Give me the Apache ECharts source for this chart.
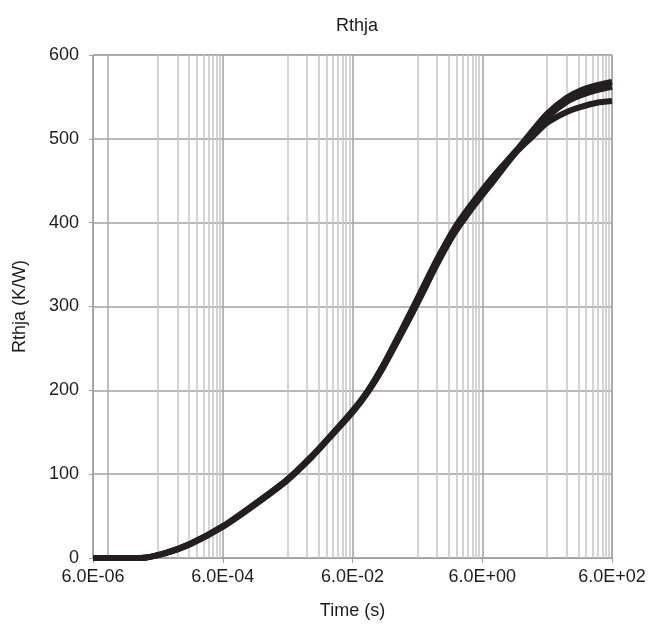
<!DOCTYPE html>
<html>
<head>
<meta charset="utf-8">
<script src="https://cdn.jsdelivr.net/npm/echarts@6/dist/echarts.min.js"></script>
<style>
    html, body { margin: 0; padding: 0; background: #fff; }
    #chart { width: 657px; height: 628px; }
</style>
</head>
<body>
<div id="chart"></div>
<script>
// time points (s) and the three thermal curves (K/W)
const T0 = 6e-6; // axis start
const times = [6e-6, 3.2e-5, 7.6e-5, 1.9e-4, 6.1e-4, 2e-3, 5.8e-3, 1.31e-2, 2.7e-2, 6.2e-2, 0.104, 0.178, 0.41, 0.66, 1.18, 2.14, 3.9, 8.8, 20, 36, 60, 120, 200, 350, 600];
const curveA = [0, 0, 5.6, 17, 38, 66, 93, 119, 145, 177, 200, 230, 284, 316, 355, 391, 420, 455, 486, 510, 530, 549, 558, 564, 568];
const curveB = [0, 0, 5.6, 17, 38, 66, 93, 118, 145, 176, 199, 229, 282, 313, 352, 388, 417, 452, 485, 507, 526, 544, 552, 558, 562];
const curveC = [0, 0, 5.6, 16.5, 37.5, 65, 92, 118, 144, 175, 198, 227, 279, 310, 349, 385, 414, 449, 484, 503, 519, 532, 538, 543, 545];
const xTicks = [0, 2, 4, 6, 8]; // decades from T0
const yMax = 600;

const dec = (t) => Math.log10(t / T0); // decades from axis start
const toPts = (ys) => times.map((t, i) => [dec(t), ys[i]]);
const FONT = "Liberation Sans";
const TXT = "#1e1c1c";

function sciLabel(v) {
    let e = Math.round(v + Math.log10(T0 / 6)); // exponent of 10
    let s = e < 0 ? "-" : "+";
    let a = Math.abs(e);
    return "6.0E" + s + (a < 10 ? "0" + a : a);
}

// minor gridlines: major * 10 * k inside each two-decade interval
const minorLines = [];
for (let m = 0; m < 8; m += 2) {
    for (let k = 1; k <= 9; k++) {
        minorLines.push({xAxis: m + 1 + Math.log10(k)});
    }
}

function curve(name, ys) {
    return {
        name: name,
        type: "line",
        data: toPts(ys),
        smooth: 0.25,
        showSymbol: false,
        lineStyle: {color: "#231f20", width: 6},
        z: 5
    };
}

const chart = echarts.init(document.getElementById("chart"));
chart.setOption({
    animation: false,
    title: {
        text: "Rthja",
        left: 352,
        top: 12,
        textAlign: "center",
        textStyle: {fontFamily: FONT, fontSize: 18, fontWeight: "normal", color: TXT}
    },
    grid: {left: 93, right: 45, top: 55, bottom: 70, show: true, borderColor: "#a0a0a0", borderWidth: 1},
    xAxis: {
        type: "value",
        min: 0,
        max: 8,
        interval: 2,
        name: "Time (s)",
        nameLocation: "middle",
        nameGap: 44,
        nameTextStyle: {fontFamily: FONT, fontSize: 18, color: TXT},
        axisLine: {lineStyle: {color: "#a0a0a0"}},
        axisTick: {show: true, length: 5, lineStyle: {color: "#a0a0a0"}},
        axisLabel: {fontFamily: FONT, fontSize: 18, color: TXT, margin: 10, formatter: sciLabel},
        splitLine: {show: true, lineStyle: {color: "#a0a0a0", width: 1.5}}
    },
    yAxis: {
        type: "value",
        min: 0,
        max: yMax,
        interval: 100,
        name: "Rthja (K/W)",
        nameLocation: "middle",
        nameGap: 64,
        nameTextStyle: {fontFamily: FONT, fontSize: 18, color: TXT},
        axisLine: {show: true, lineStyle: {color: "#a0a0a0"}},
        axisTick: {show: true, length: 4, lineStyle: {color: "#a0a0a0"}},
        axisLabel: {fontFamily: FONT, fontSize: 18, color: TXT, margin: 14},
        splitLine: {show: true, lineStyle: {color: "#a0a0a0", width: 1.5}}
    },
    series: [
        {
            type: "line",
            data: [],
            silent: true,
            markLine: {
                silent: true,
                symbol: "none",
                label: {show: false},
                animation: false,
                lineStyle: {color: "#c6c6c6", type: "solid", width: 1.5},
                data: minorLines.concat([{xAxis: dec(1e-5), lineStyle: {color: "#a8a8a8"}}])
            },
            z: 1
        },
        curve("c1", curveA),
        curve("c2", curveB),
        curve("c3", curveC)
    ]
});
</script>
</body>
</html>
